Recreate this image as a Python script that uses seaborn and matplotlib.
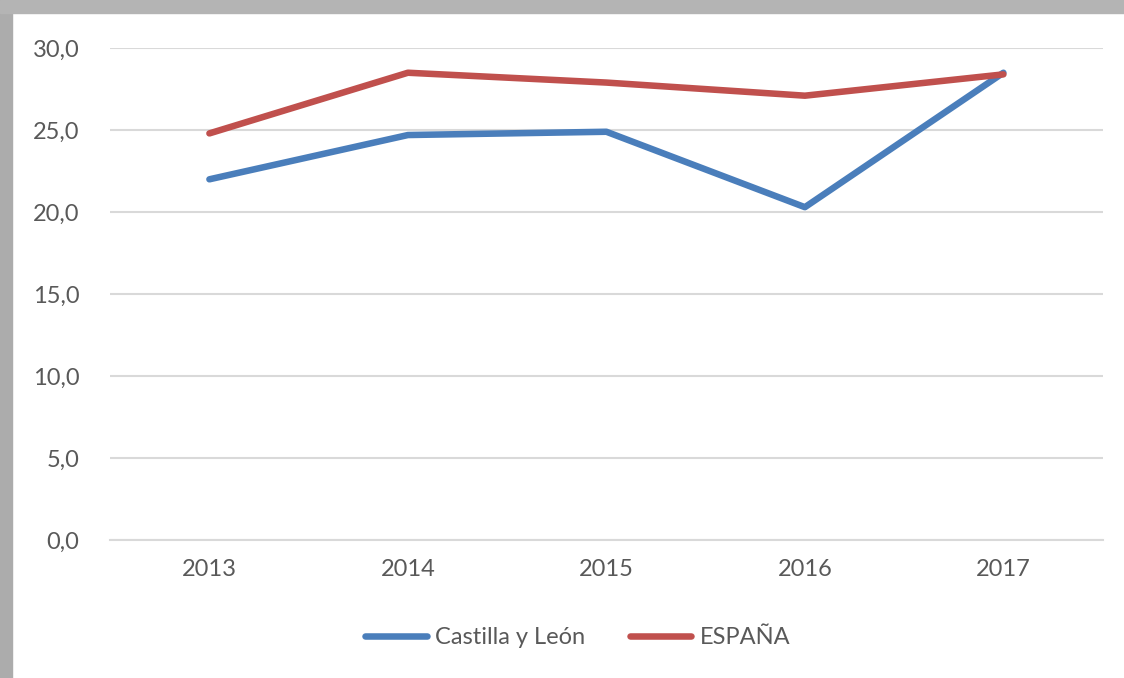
import seaborn as sns
import matplotlib.pyplot as plt
import pandas as pd
from matplotlib.patches import Rectangle

# values
years = ["2013", "2014", "2015", "2016", "2017"]
castilla = [22.0, 24.7, 24.9, 20.3, 28.5]
espana = [24.8, 28.5, 27.9, 27.1, 28.4]

df = pd.DataFrame({
    "year": years * 2,
    "value": castilla + espana,
    "serie": ["Castilla y León"] * 5 + ["ESPAÑA"] * 5,
})

sns.set_style("white")
plt.rcParams['font.family'] = ['Lato', 'DejaVu Sans']

fig = plt.figure(figsize=(11.24, 6.78), dpi=100)
ax = fig.add_axes([0.098, 0.2035, 0.883, 0.7255])

palette = {"Castilla y León": "#4a7ebb", "ESPAÑA": "#c0504d"}
sns.lineplot(data=df, x="year", y="value", hue="serie", palette=palette,
             linewidth=4.7, sort=False, ax=ax, legend=False,
             solid_capstyle="round", solid_joinstyle="round")

ax.set_xlim(-0.5, 4.5)
ax.set_ylim(0, 30)
ax.set_yticks([0, 5, 10, 15, 20, 25, 30])
ax.set_yticklabels([f"{v:.1f}".replace(".", ",") for v in ax.get_yticks()])
ax.yaxis.grid(True, color="#d9d9d9", linewidth=1.5)
ax.set_axisbelow(True)
for s in ax.spines.values():
    s.set_visible(False)
ax.spines["bottom"].set_visible(True)
ax.spines["bottom"].set_color("#d9d9d9")
ax.spines["bottom"].set_linewidth(1.5)
ax.tick_params(axis="both", length=0, labelsize=17, labelcolor="#595959")
ax.tick_params(axis="y", pad=22)
ax.tick_params(axis="x", pad=14)
ax.set_xlabel("")
ax.set_ylabel("")

handles = [plt.Line2D([], [], color=palette[k], linewidth=4.7, solid_capstyle="round")
           for k in palette]
fig.legend(handles, list(palette), loc="center", bbox_to_anchor=(0.514, 0.06), ncol=2,
           frameon=False, fontsize=17, labelcolor="#595959", handlelength=2.6,
           handletextpad=0.35, columnspacing=1.9)

# grey frame edges from the screenshot
fig.patches.append(Rectangle((0, 0), 12 / 1124, 1, transform=fig.transFigure,
                             color="#acacac", zorder=0))
fig.patches.append(Rectangle((0, 1 - 13 / 678), 1, 13 / 678, transform=fig.transFigure,
                             color="#b4b4b4", zorder=0))

fig.savefig("out.png", dpi=100)
